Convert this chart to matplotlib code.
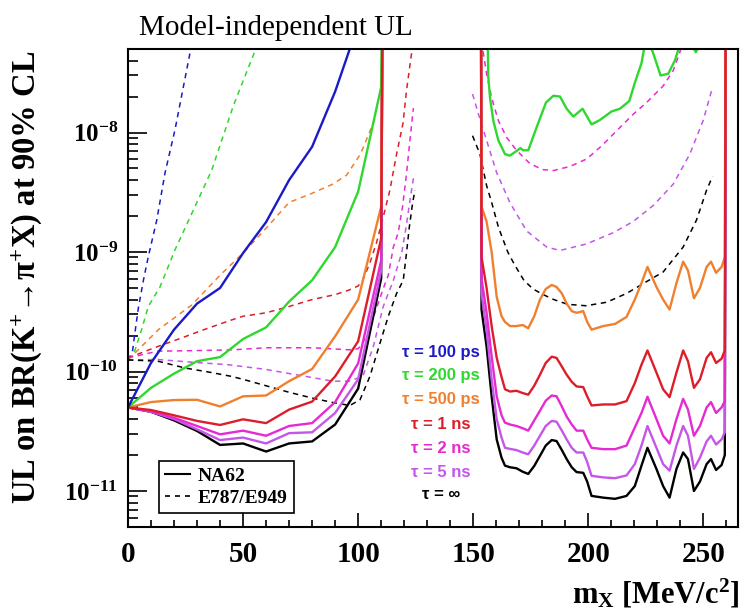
import numpy as np
import matplotlib
matplotlib.use('Agg')
import matplotlib.pyplot as plt
from matplotlib.lines import Line2D
from matplotlib.ticker import MultipleLocator, LogLocator, NullFormatter

plt.rcParams['font.family'] = ['Liberation Serif', 'DejaVu Serif']
plt.rcParams['mathtext.fontset'] = 'custom'
plt.rcParams['mathtext.rm'] = 'Liberation Serif'
plt.rcParams['mathtext.it'] = 'Liberation Serif:italic'
plt.rcParams['mathtext.bf'] = 'Liberation Serif:bold'

# ---------------- NA62 upper limits, low-mass region ----------------
m_lo = [0, 10, 20, 30, 40, 50, 60, 70, 80, 90, 100, 110, 110.8]
na62_100ps_lo = [5e-11, 1.18e-10, 2.24e-10, 3.7e-10, 5.0e-10, 9.8e-10, 1.78e-9, 4.0e-9, 7.6e-9, 2.2e-8, 8e-8, 1e-6, 1e-6]
na62_200ps_lo = [5e-11, 7.3e-11, 9.6e-11, 1.22e-10, 1.32e-10, 1.87e-10, 2.34e-10, 3.85e-10, 5.8e-10, 1.1e-9, 3.2e-9, 2.4e-8, 1e-6]
na62_500ps_lo = [5e-11, 5.55e-11, 5.77e-11, 5.8e-11, 5.1e-11, 6.2e-11, 6.3e-11, 8.3e-11, 1.05e-10, 1.97e-10, 4.0e-10, 2.4e-9, 1e-6]
na62_1ns_lo = [5e-11, 4.76e-11, 4.3e-11, 3.86e-11, 3.57e-11, 3.98e-11, 3.7e-11, 4.8e-11, 5.6e-11, 9.1e-11, 1.79e-10, 1.3e-9, 1e-6]
na62_2ns_lo = [5e-11, 4.65e-11, 4.1e-11, 3.5e-11, 2.98e-11, 3.2e-11, 2.9e-11, 3.5e-11, 3.7e-11, 5.55e-11, 1.17e-10, 8.5e-10, 1e-6]
na62_5ns_lo = [5e-11, 4.6e-11, 4.0e-11, 3.28e-11, 2.67e-11, 2.8e-11, 2.5e-11, 3.05e-11, 3.1e-11, 4.5e-11, 8.6e-11, 7e-10, 1e-6]
na62_inf_lo = [5e-11, 4.6e-11, 3.9e-11, 3.18e-11, 2.43e-11, 2.5e-11, 2.14e-11, 2.5e-11, 2.6e-11, 3.6e-11, 7.2e-11, 6e-10, 1e-6]

# ---------------- NA62 upper limits, high-mass region ----------------
m_hi = [153.3, 153.6, 155.8, 158.0, 160.2, 162.3, 163.8, 166.0, 168.8, 171.5,
        173.9, 176.5, 179.0, 181.5, 184.1, 186.2, 188.5, 190.6, 192.8, 194.9,
        197.8, 199.5, 201.4, 206.5, 211.6, 216.6, 220.2, 223.1, 225.7, 229.6,
        232.5, 235.3, 238.3, 241.2, 243.3, 245.9, 248.5, 251.4, 253.3, 255.5,
        257.9, 259.3, 259.8]
na62_inf_hi = [1e-6, 3.3e-10, 1.62e-10, 6.2e-11, 2.7e-11, 1.9e-11, 1.63e-11, 1.58e-11, 1.55e-11, 1.45e-11,
               1.39e-11, 1.62e-11, 1.97e-11, 2.4e-11, 2.67e-11, 2.62e-11, 2.2e-11, 1.85e-11, 1.58e-11, 1.44e-11,
               1.42e-11, 1.2e-11, 9.1e-12, 8.8e-12, 8.6e-12, 9.1e-12, 1.1e-11, 1.63e-11, 2.3e-11, 1.53e-11,
               1.1e-11, 8.8e-12, 1.53e-11, 2.1e-11, 1.85e-11, 1.0e-11, 1.2e-11, 1.68e-11, 1.85e-11, 1.5e-11,
               1.65e-11, 2.0e-11, 1e-6]
na62_5ns_hi = [1e-6, 4.5e-10, 2.24e-10, 8.6e-11, 4.0e-11, 2.8e-11, 2.3e-11, 2.25e-11, 2.2e-11, 2.1e-11,
               2.03e-11, 2.4e-11, 2.9e-11, 3.5e-11, 3.86e-11, 3.8e-11, 3.2e-11, 2.7e-11, 2.3e-11, 2.1e-11,
               2.1e-11, 1.75e-11, 1.34e-11, 1.3e-11, 1.28e-11, 1.35e-11, 1.68e-11, 2.4e-11, 3.5e-11, 2.3e-11,
               1.68e-11, 1.48e-11, 2.4e-11, 3.5e-11, 2.9e-11, 1.53e-11, 1.9e-11, 2.6e-11, 2.9e-11, 2.45e-11,
               2.7e-11, 3.1e-11, 1e-6]
na62_2ns_hi = [1e-6, 6e-10, 3.1e-10, 1.34e-10, 6.2e-11, 4.3e-11, 3.73e-11, 3.6e-11, 3.5e-11, 3.35e-11,
               3.2e-11, 3.9e-11, 4.7e-11, 5.7e-11, 6.3e-11, 6.2e-11, 5.1e-11, 4.2e-11, 3.6e-11, 3.2e-11,
               3.2e-11, 2.7e-11, 2.3e-11, 2.24e-11, 2.24e-11, 2.4e-11, 3.4e-11, 4.5e-11, 6.15e-11, 4.0e-11,
               2.9e-11, 2.5e-11, 4.0e-11, 5.9e-11, 4.8e-11, 2.9e-11, 3.5e-11, 5.0e-11, 5.55e-11, 4.5e-11,
               5.0e-11, 5.65e-11, 1e-6]
na62_1ns_hi = [1e-6, 9.1e-10, 5e-10, 2.4e-10, 1.3e-10, 9e-11, 7.1e-11, 6.8e-11, 6.9e-11, 6.6e-11,
               6.4e-11, 7.6e-11, 9.4e-11, 1.18e-10, 1.33e-10, 1.3e-10, 1.1e-10, 9.4e-11, 8.2e-11, 7.5e-11,
               7.4e-11, 6.2e-11, 5.2e-11, 5.3e-11, 5.3e-11, 5.65e-11, 8.0e-11, 1.14e-10, 1.5e-10, 9.8e-11,
               7.1e-11, 6.1e-11, 9.8e-11, 1.5e-10, 1.22e-10, 7.3e-11, 8.6e-11, 1.3e-10, 1.45e-10, 1.18e-10,
               1.28e-10, 1.5e-10, 1e-6]
na62_500ps_hi = [1e-6, 2.4e-9, 1.8e-9, 1.0e-9, 4.2e-10, 2.9e-10, 2.6e-10, 2.4e-10, 2.4e-10, 2.45e-10,
                 2.3e-10, 2.9e-10, 4.0e-10, 4.9e-10, 5.3e-10, 5.1e-10, 4.5e-10, 3.7e-10, 3.2e-10, 3.1e-10,
                 3.2e-10, 2.6e-10, 2.24e-10, 2.4e-10, 2.5e-10, 2.86e-10, 4.0e-10, 5.5e-10, 7.5e-10, 5.1e-10,
                 4.0e-10, 3.3e-10, 5.5e-10, 8.3e-10, 7.0e-10, 4.1e-10, 5.0e-10, 7.5e-10, 8.3e-10, 6.7e-10,
                 7.5e-10, 9.0e-10, 1e-6]
m_200ps_hi = [155.5, 156.5, 157.3, 158.7, 160.9, 163.8, 165.9, 168.8, 170.5, 171.7,
              173.9, 177.5, 181.6, 184.8, 187.7, 190.6, 193.5, 197.5, 201.4, 205.0,
              210.1, 213.7, 217.8, 220.2, 223.1, 225.3, 228.2, 231.4, 234.7, 237.6,
              239.5, 242.5, 246.0, 246.7, 247.4, 249.0]
na62_200ps_hi = [1e-6, 3.0e-8, 1.95e-8, 1.26e-8, 8.6e-9, 6.6e-9, 6.4e-9, 7.0e-9, 7.4e-9, 7.1e-9,
                 7.1e-9, 1.1e-8, 1.78e-8, 2.03e-8, 2.0e-8, 1.58e-8, 1.36e-8, 1.58e-8, 1.17e-8, 1.27e-8,
                 1.5e-8, 1.58e-8, 1.83e-8, 2.6e-8, 3.8e-8, 6.5e-8, 4.6e-8, 3.0e-8, 3.1e-8, 4.0e-8,
                 5.2e-8, 6.5e-8, 5.0e-8, 4.7e-8, 5.0e-8, 7e-8]

# ---------------- E787/E949 limits ----------------
e787_100ps_m = [0, 1.9, 3.0, 4.5, 6.7, 8.8, 12.5, 16.1, 20.4, 27.0, 28.0]
e787_100ps = [1.25e-10, 1.45e-10, 2.1e-10, 3.4e-10, 5.8e-10, 9.1e-10, 1.85e-9, 4.6e-9, 1.05e-8, 4.7e-8, 6e-8]
e787_200ps_m = [0, 3.0, 5.9, 8.8, 13.9, 20.4, 29.1, 36.3, 45.8, 55.5, 56.5]
e787_200ps = [1.25e-10, 1.5e-10, 2.24e-10, 3.5e-10, 5.1e-10, 1.04e-9, 2.4e-9, 4.8e-9, 1.68e-8, 5e-8, 6e-8]
e787_500ps_m = [0, 13.2, 27.7, 40, 50, 60, 70, 80, 89, 95, 101, 105.8, 107.5]
e787_500ps = [1.25e-10, 2.24e-10, 3.6e-10, 6.4e-10, 9.8e-10, 1.58e-9, 2.6e-9, 3.1e-9, 3.7e-9, 4.4e-9, 6.6e-9, 1.1e-8, 1.35e-8]
e787_1ns_m = [0, 13, 23, 33, 45, 50, 60, 70, 80, 90, 96, 100, 102, 105, 108, 111, 113.8, 116.7, 119.5, 121, 123.2, 124]
e787_1ns = [1.3e-10, 1.62e-10, 1.9e-10, 2.24e-10, 2.7e-10, 2.9e-10, 3.1e-10, 3.5e-10, 4.0e-10, 4.4e-10, 4.8e-10,
            5.2e-10, 5.8e-10, 8e-10, 1.2e-9, 2.0e-9, 3.3e-9, 6.6e-9, 1.2e-8, 2.24e-8, 4.6e-8, 6e-8]
e787_2ns_lo_m = [0, 13, 33, 46, 60, 80, 96, 100, 104, 108, 111, 113.1, 115.3, 117.4, 119.3, 121, 122.5, 124]
e787_2ns_lo = [1.3e-10, 1.48e-10, 1.5e-10, 1.52e-10, 1.58e-10, 1.58e-10, 1.52e-10, 1.55e-10, 2.0e-10, 3.4e-10,
               5.0e-10, 6.4e-10, 1.1e-9, 1.45e-9, 2.4e-9, 4.5e-9, 8.6e-9, 1.6e-8]
e787_5ns_lo_m = [0, 13, 27, 43.6, 60, 80, 89, 96, 102, 106.6, 110.9, 115.3, 118.9, 120.8, 122.5, 124.3]
e787_5ns_lo = [1.25e-10, 1.26e-10, 1.2e-10, 1.14e-10, 1.04e-10, 8.9e-11, 8.3e-11, 8.3e-11, 9.1e-11, 1.62e-10,
               3.5e-10, 5.8e-10, 9.8e-10, 1.6e-9, 2.7e-9, 4.5e-9]
e787_inf_lo_m = [0, 13, 24.8, 36.3, 45, 50, 60, 70, 80, 89, 96.4, 100.8, 105.1, 109.5, 113.1, 116.7, 119.6,
                 121, 122.2, 123.7, 124.7]
e787_inf_lo = [1.25e-10, 1.22e-10, 1.07e-10, 9.8e-11, 9.1e-11, 8.6e-11, 7.6e-11, 6.7e-11, 6.0e-11, 5.5e-11,
               5.2e-11, 5.8e-11, 9.1e-11, 1.73e-10, 2.9e-10, 4.5e-10, 5.8e-10, 9.8e-10, 1.6e-9, 2.6e-9, 3.3e-9]
e787_inf_hi_m = [149.7, 152.9, 155.8, 158.0, 161.0, 165.0, 168.0, 172.0, 176.0, 180.4, 185.0, 191.0, 199.0,
                 208.0, 216.6, 225.3, 232.5, 241.2, 247.0, 251.4, 254.0]
e787_inf_hi = [9.4e-9, 6.6e-9, 3.6e-9, 2.6e-9, 1.6e-9, 1.0e-9, 7.8e-10, 5.8e-10, 4.9e-10, 4.4e-10, 4.0e-10,
               3.65e-10, 3.55e-10, 3.8e-10, 4.5e-10, 5.65e-10, 6.8e-10, 1.1e-9, 1.85e-9, 3.3e-9, 4.3e-9]
e787_2ns_hi_m = [153.5, 154.4, 155.8, 158.0, 160.9, 164.5, 168.8, 174.6, 180.0, 184.8, 192.0, 199.3, 206.0,
                 213.7, 220.0, 225.3, 232.5, 236.9, 239.8, 241.0]
e787_2ns_hi = [7e-8, 4.6e-8, 3.1e-8, 1.95e-8, 1.26e-8, 9.1e-9, 7.1e-9, 5.5e-9, 4.9e-9, 4.8e-9, 5.2e-9,
               6.0e-9, 7.8e-9, 1.1e-8, 1.45e-8, 1.78e-8, 2.45e-8, 3.3e-8, 4.7e-8, 6e-8]
e787_5ns_hi_m = [149.7, 152.2, 155.8, 160.2, 165.9, 173.2, 181.9, 187.7, 199.3, 210.8, 219.5, 228.2, 236.9,
                 244.1, 249.9, 254.0]
e787_5ns_hi = [2.1e-8, 1.44e-8, 8.6e-9, 4.6e-9, 2.6e-9, 1.5e-9, 1.1e-9, 1.03e-9, 1.17e-9, 1.45e-9, 1.8e-9,
               2.45e-9, 3.7e-9, 6.6e-9, 1.26e-8, 2.4e-8]

lifetimes = ['τ = 100 ps', 'τ = 200 ps', 'τ = 500 ps', 'τ = 1 ns', 'τ = 2 ns', 'τ = 5 ns', 'τ = ∞']
c_100ps = '#1a1ac8'
c_200ps = '#2ed82e'
c_500ps = '#f0802e'
c_1ns = '#dc1e2a'
c_2ns = '#e62ad2'
c_5ns = '#c456e8'
c_inf = '#000000'
colors = [c_100ps, c_200ps, c_500ps, c_1ns, c_2ns, c_5ns, c_inf]

fig = plt.figure(figsize=(7.42, 6.16), dpi=100)
ax = fig.add_axes([0.1725, 0.1445, 0.822, 0.776])

dash = (0, (3.5, 3))
lw_d = 1.1
lw_s = 1.7

# dashed E787/E949 curves
ax.plot(e787_100ps_m, e787_100ps, color=c_100ps, lw=lw_d, ls=dash)
ax.plot(e787_200ps_m, e787_200ps, color=c_200ps, lw=lw_d, ls=dash)
ax.plot(e787_500ps_m, e787_500ps, color=c_500ps, lw=lw_d, ls=dash)
ax.plot(e787_1ns_m, e787_1ns, color=c_1ns, lw=lw_d, ls=dash)
ax.plot(e787_2ns_lo_m, e787_2ns_lo, color=c_2ns, lw=lw_d, ls=dash)
ax.plot(e787_5ns_lo_m, e787_5ns_lo, color=c_5ns, lw=lw_d, ls=dash)
ax.plot(e787_inf_lo_m, e787_inf_lo, color=c_inf, lw=lw_d, ls=dash)
ax.plot(e787_inf_hi_m, e787_inf_hi, color=c_inf, lw=lw_d, ls=dash)
ax.plot(e787_2ns_hi_m, e787_2ns_hi, color=c_2ns, lw=lw_d, ls=dash)
ax.plot(e787_5ns_hi_m, e787_5ns_hi, color=c_5ns, lw=lw_d, ls=dash)

# solid NA62 curves
ax.plot(m_lo, na62_inf_lo, color=c_inf, lw=lw_s)
ax.plot(m_lo, na62_5ns_lo, color=c_5ns, lw=lw_s)
ax.plot(m_lo, na62_2ns_lo, color=c_2ns, lw=lw_s)
ax.plot(m_lo, na62_500ps_lo, color=c_500ps, lw=lw_s)
ax.plot(m_lo, na62_200ps_lo, color=c_200ps, lw=lw_s)
ax.plot(m_lo, na62_100ps_lo, color=c_100ps, lw=lw_s)
ax.plot(m_lo, na62_1ns_lo, color=c_1ns, lw=lw_s)

ax.plot(m_200ps_hi, na62_200ps_hi, color=c_200ps, lw=lw_s)
ax.plot(m_hi, na62_inf_hi, color=c_inf, lw=lw_s)
ax.plot(m_hi, na62_5ns_hi, color=c_5ns, lw=lw_s)
ax.plot(m_hi, na62_2ns_hi, color=c_2ns, lw=lw_s)
ax.plot(m_hi, na62_500ps_hi, color=c_500ps, lw=lw_s)
ax.plot(m_hi, na62_1ns_hi, color=c_1ns, lw=lw_s)

ax.set_yscale('log')
ax.set_xlim(0, 265)
ax.set_ylim(5e-12, 5e-8)

ax.set_xticks([0, 50, 100, 150, 200, 250])
ax.set_xticklabels(['0', '50', '100', '150', '200', '250'], fontsize=21, fontweight='bold')
ax.xaxis.set_minor_locator(MultipleLocator(10))
ax.set_yticks([1e-11, 1e-10, 1e-9, 1e-8])
ax.set_yticklabels([r'$\mathbf{10^{-11}}$', r'$\mathbf{10^{-10}}$', r'$\mathbf{10^{-9}}$', r'$\mathbf{10^{-8}}$'],
                   fontsize=18)
ax.yaxis.set_minor_locator(LogLocator(base=10, subs=np.arange(2, 10)))
ax.yaxis.set_minor_formatter(NullFormatter())

ax.tick_params(axis='both', which='both', direction='in', top=False, right=False, width=1.2)
ax.tick_params(axis='y', which='major', length=14, pad=7)
ax.tick_params(axis='y', which='minor', length=7)
ax.tick_params(axis='x', which='major', length=10, pad=10)
ax.tick_params(axis='x', which='minor', length=5)
for s in ax.spines.values():
    s.set_linewidth(1.5)

# lifetime labels
label_y = [0.366, 0.316, 0.266, 0.215, 0.165, 0.115, 0.069]
for txt, col, yy in zip(lifetimes, colors, label_y):
    ax.text(0.513, yy, txt, color=col, transform=ax.transAxes, ha='center', va='center',
            fontsize=12, fontweight='bold', family=['Liberation Sans', 'DejaVu Sans'])

handles = [Line2D([], [], color='k', lw=1.5),
           Line2D([], [], color='k', lw=1.2, ls=(0, (3, 3)))]
leg = ax.legend(handles, ['NA62', 'E787/E949'], loc='lower left', bbox_to_anchor=(0.051, 0.029),
                borderaxespad=0, fancybox=False, edgecolor='k', framealpha=1,
                prop={'family': 'Liberation Serif', 'weight': 'bold', 'size': 14},
                handlelength=1.3, handletextpad=0.4, borderpad=0.3, labelspacing=0.25)
leg.get_frame().set_linewidth(1.2)

fig.text(0.187, 0.943, 'Model-independent UL', fontsize=21, va='baseline', ha='left')
fig.text(0.036, 0.55, r'UL on BR(K$^{\mathbf{+}}$→π$^{\mathbf{+}}$X) at 90% CL', rotation=90,
         ha='center', va='center', fontsize=23.5, fontweight='bold')
fig.text(0.997, 0.02, r'$\mathbf{m_{X}}$ [MeV/c$^{\mathbf{2}}$]', ha='right', va='baseline',
         fontsize=22, fontweight='bold')

fig.savefig('out.png', dpi=100)
